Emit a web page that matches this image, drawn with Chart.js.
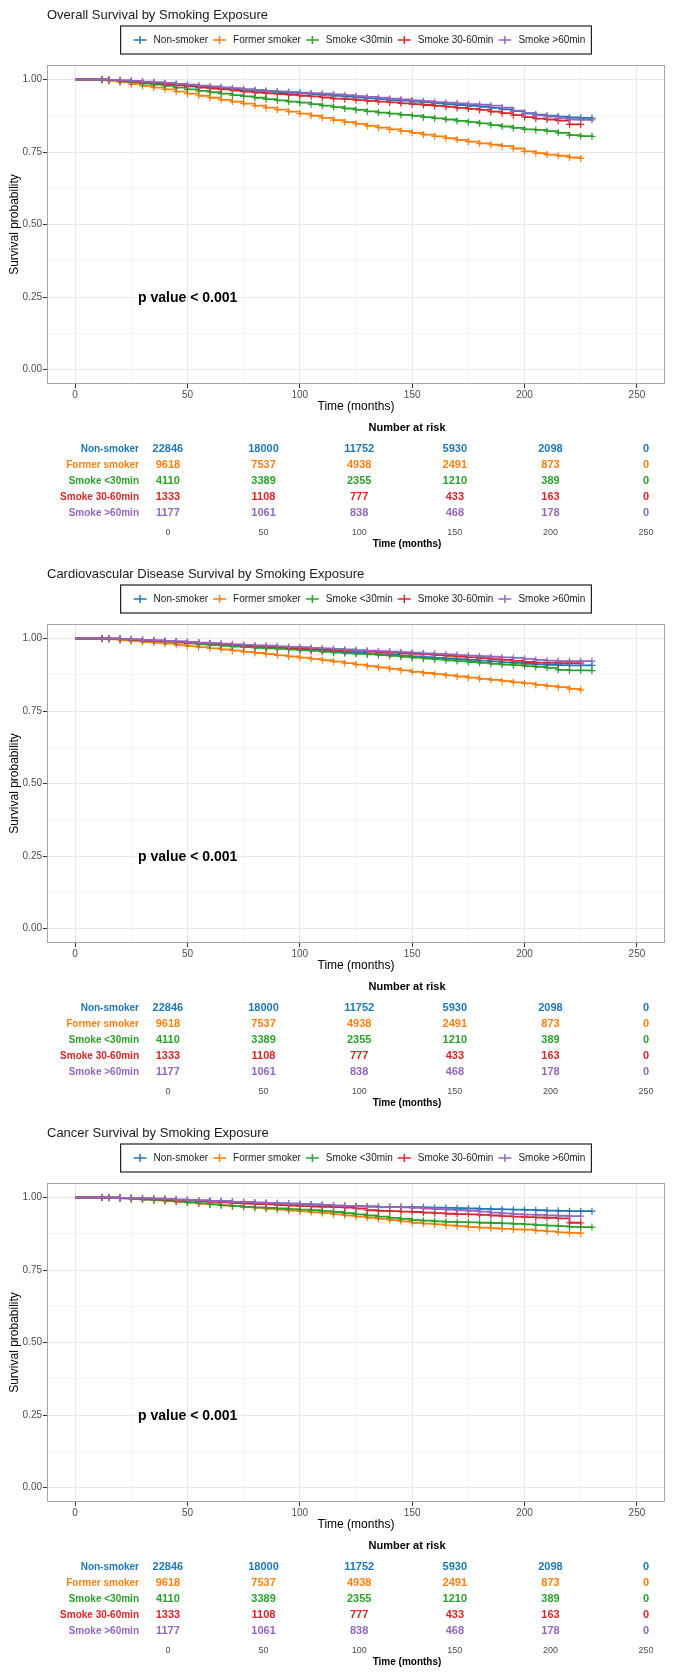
<!DOCTYPE html>
<html>
<head>
<meta charset="UTF-8">
<title>Survival by Smoking Exposure</title>
<script src="https://cdn.jsdelivr.net/npm/chart.js"></script>
<style>
  body { margin: 0; background: #fff; }
  .panel { width: 674px; height: 559px; }
  canvas { display: block; }
</style>
</head>
<body>

<div class="panel"><canvas id="km1" width="674" height="418"></canvas><canvas id="risk1" width="674" height="141"></canvas></div>
<div class="panel"><canvas id="km2" width="674" height="418"></canvas><canvas id="risk2" width="674" height="141"></canvas></div>
<div class="panel"><canvas id="km3" width="674" height="418"></canvas><canvas id="risk3" width="674" height="141"></canvas></div>

<script>
const FONT = '"Liberation Sans", Arial, Helvetica, sans-serif';
Chart.defaults.font.family = FONT;

const groups = ['Non-smoker', 'Former smoker', 'Smoke <30min', 'Smoke 30-60min', 'Smoke >60min'];
const groupColors = ['#1F77B4', '#FF7F0E', '#2CA02C', '#D62728', '#9467BD'];

const xTicks = [0, 25, 50, 75, 100, 125, 150, 175, 200, 225, 250];
const yTicks = [0, 0.125, 0.25, 0.375, 0.5, 0.625, 0.75, 0.875, 1];

const timeMonths = [0, 12, 15, 20, 25, 30, 35, 40, 45, 50,
  55, 60, 65, 70, 75, 80, 85, 90, 95, 100,
  105, 110, 115, 120, 125, 130, 135, 140, 145, 150,
  155, 160, 165, 170, 175, 180, 185, 190, 195, 200,
  205, 210, 215, 220, 225, 230];

// overall survival
const osNonSmoker = [1, 1, 0.999, 0.996, 0.994, 0.991, 0.988, 0.985, 0.982, 0.979,
  0.976, 0.973, 0.970, 0.967, 0.964, 0.961, 0.958, 0.956, 0.954, 0.952,
  0.950, 0.947, 0.944, 0.941, 0.938, 0.935, 0.932, 0.929, 0.927, 0.924,
  0.921, 0.918, 0.915, 0.912, 0.909, 0.906, 0.902, 0.897, 0.891, 0.884,
  0.879, 0.875, 0.872, 0.869, 0.868, 0.867];
const osFormer = [1, 0.998, 0.995, 0.990, 0.984, 0.978, 0.972, 0.966, 0.958, 0.951,
  0.944, 0.937, 0.930, 0.924, 0.917, 0.910, 0.903, 0.896, 0.889, 0.882,
  0.875, 0.868, 0.860, 0.853, 0.847, 0.840, 0.834, 0.828, 0.822, 0.816,
  0.810, 0.804, 0.798, 0.792, 0.786, 0.780, 0.775, 0.770, 0.762, 0.752,
  0.746, 0.741, 0.737, 0.731, 0.728, null];
const osLt30 = [1, 0.999, 0.997, 0.994, 0.990, 0.986, 0.982, 0.978, 0.972, 0.966,
  0.961, 0.956, 0.951, 0.946, 0.942, 0.937, 0.932, 0.928, 0.924, 0.920,
  0.915, 0.910, 0.905, 0.900, 0.895, 0.890, 0.886, 0.882, 0.878, 0.875,
  0.870, 0.866, 0.862, 0.857, 0.853, 0.849, 0.843, 0.838, 0.833, 0.828,
  0.826, 0.822, 0.816, 0.808, 0.805, 0.804];
const os30to60 = [1, 1, 0.998, 0.996, 0.993, 0.990, 0.987, 0.984, 0.980, 0.976,
  0.972, 0.969, 0.966, 0.962, 0.958, 0.955, 0.952, 0.950, 0.947, 0.944,
  0.942, 0.938, 0.934, 0.932, 0.929, 0.926, 0.924, 0.921, 0.918, 0.915,
  0.912, 0.909, 0.906, 0.902, 0.899, 0.895, 0.889, 0.884, 0.877, 0.870,
  0.865, 0.862, 0.858, 0.845, 0.845, null];
const osGt60 = [1, 1, 0.999, 0.997, 0.995, 0.993, 0.991, 0.988, 0.985, 0.982,
  0.979, 0.976, 0.973, 0.970, 0.967, 0.964, 0.961, 0.959, 0.957, 0.955,
  0.953, 0.951, 0.949, 0.946, 0.943, 0.940, 0.937, 0.934, 0.931, 0.928,
  0.925, 0.922, 0.920, 0.918, 0.915, 0.913, 0.910, 0.903, 0.893, 0.882,
  0.876, 0.872, 0.866, 0.862, 0.861, 0.861];

// cardiovascular disease survival
const cvdNonSmoker = [1, 1, 0.999, 0.998, 0.996, 0.994, 0.992, 0.990, 0.988, 0.985,
  0.983, 0.980, 0.978, 0.976, 0.973, 0.971, 0.969, 0.967, 0.965, 0.963,
  0.961, 0.958, 0.955, 0.953, 0.950, 0.948, 0.946, 0.944, 0.941, 0.938,
  0.936, 0.933, 0.931, 0.929, 0.926, 0.924, 0.921, 0.918, 0.916, 0.913,
  0.911, 0.909, 0.908, 0.907, 0.907, 0.907];
const cvdFormer = [1, 0.999, 0.997, 0.994, 0.991, 0.988, 0.985, 0.982, 0.978, 0.974,
  0.970, 0.966, 0.962, 0.958, 0.954, 0.950, 0.946, 0.942, 0.938, 0.934,
  0.930, 0.925, 0.920, 0.915, 0.910, 0.905, 0.900, 0.895, 0.890, 0.885,
  0.881, 0.877, 0.873, 0.869, 0.865, 0.861, 0.857, 0.853, 0.849, 0.845,
  0.840, 0.836, 0.832, 0.826, 0.822, null];
const cvdLt30 = [1, 1, 0.999, 0.997, 0.995, 0.993, 0.991, 0.989, 0.986, 0.983,
  0.980, 0.977, 0.975, 0.972, 0.970, 0.968, 0.966, 0.964, 0.962, 0.959,
  0.957, 0.954, 0.951, 0.949, 0.947, 0.945, 0.943, 0.940, 0.937, 0.934,
  0.931, 0.928, 0.925, 0.922, 0.919, 0.916, 0.913, 0.910, 0.908, 0.905,
  0.902, 0.899, 0.892, 0.890, 0.890, 0.889];
const cvd30to60 = [1, 1, 1, 0.998, 0.996, 0.994, 0.992, 0.990, 0.989, 0.987,
  0.985, 0.983, 0.980, 0.978, 0.975, 0.973, 0.971, 0.970, 0.968, 0.966,
  0.964, 0.962, 0.960, 0.958, 0.957, 0.955, 0.953, 0.951, 0.949, 0.947,
  0.945, 0.943, 0.940, 0.938, 0.935, 0.932, 0.929, 0.926, 0.923, 0.919,
  0.917, 0.916, 0.915, 0.915, 0.915, null];
const cvdGt60 = [1, 1, 1, 0.998, 0.997, 0.995, 0.994, 0.992, 0.990, 0.988,
  0.986, 0.984, 0.982, 0.980, 0.978, 0.976, 0.975, 0.973, 0.971, 0.970,
  0.968, 0.966, 0.964, 0.962, 0.960, 0.958, 0.956, 0.955, 0.953, 0.951,
  0.949, 0.947, 0.945, 0.943, 0.941, 0.939, 0.937, 0.935, 0.933, 0.930,
  0.926, 0.924, 0.922, 0.922, 0.922, 0.922];

// cancer survival
const caNonSmoker = [1, 1, 1, 0.999, 0.998, 0.997, 0.996, 0.995, 0.993, 0.991,
  0.990, 0.988, 0.987, 0.985, 0.984, 0.982, 0.981, 0.980, 0.979, 0.978,
  0.976, 0.974, 0.972, 0.971, 0.970, 0.969, 0.968, 0.968, 0.967, 0.967,
  0.966, 0.965, 0.964, 0.963, 0.962, 0.961, 0.960, 0.959, 0.958, 0.957,
  0.956, 0.955, 0.954, 0.953, 0.953, 0.953];
const caFormer = [1, 1, 0.999, 0.997, 0.995, 0.993, 0.990, 0.988, 0.985, 0.982,
  0.979, 0.976, 0.973, 0.970, 0.967, 0.964, 0.961, 0.958, 0.955, 0.952,
  0.949, 0.946, 0.942, 0.938, 0.934, 0.930, 0.926, 0.922, 0.918, 0.913,
  0.910, 0.907, 0.904, 0.901, 0.898, 0.896, 0.894, 0.892, 0.890, 0.889,
  0.886, 0.883, 0.880, 0.878, 0.877, null];
const caLt30 = [1, 1, 0.999, 0.997, 0.995, 0.993, 0.991, 0.989, 0.986, 0.983,
  0.980, 0.976, 0.973, 0.970, 0.968, 0.966, 0.964, 0.962, 0.960, 0.958,
  0.956, 0.953, 0.950, 0.946, 0.942, 0.938, 0.934, 0.930, 0.926, 0.922,
  0.920, 0.918, 0.916, 0.915, 0.914, 0.913, 0.912, 0.911, 0.909, 0.907,
  0.905, 0.903, 0.901, 0.899, 0.898, 0.898];
const ca30to60 = [1, 1, 1, 0.999, 0.997, 0.996, 0.994, 0.993, 0.991, 0.989,
  0.987, 0.985, 0.983, 0.981, 0.979, 0.977, 0.976, 0.974, 0.972, 0.970,
  0.969, 0.968, 0.967, 0.965, 0.962, 0.956, 0.954, 0.953, 0.951, 0.950,
  0.948, 0.946, 0.944, 0.943, 0.942, 0.940, 0.938, 0.936, 0.934, 0.932,
  0.931, 0.930, 0.928, 0.913, 0.912, null];
const caGt60 = [1, 1, 1, 0.999, 0.998, 0.997, 0.996, 0.995, 0.993, 0.991,
  0.990, 0.988, 0.987, 0.985, 0.984, 0.982, 0.981, 0.980, 0.979, 0.977,
  0.975, 0.974, 0.972, 0.971, 0.970, 0.969, 0.968, 0.967, 0.966, 0.964,
  0.962, 0.960, 0.958, 0.956, 0.954, 0.951, 0.948, 0.945, 0.943, 0.941,
  0.940, 0.938, 0.937, 0.936, 0.936, null];

// number at risk (same table under every panel)
const riskTimes = [0, 50, 100, 150, 200, 250];
const riskNonSmoker = [22846, 18000, 11752, 5930, 2098, 0];
const riskFormer = [9618, 7537, 4938, 2491, 873, 0];
const riskLt30 = [4110, 3389, 2355, 1210, 389, 0];
const risk30to60 = [1333, 1108, 777, 433, 163, 0];
const riskGt60 = [1177, 1061, 838, 468, 178, 0];
const riskCounts = [riskNonSmoker, riskFormer, riskLt30, risk30to60, riskGt60];

const pText = 'p value < 0.001';
const pAt = { x: 28, y: 0.245 };

const isMajorX = v => v % 50 === 0;
const isMajorY = v => Math.abs(v * 4 - Math.round(v * 4)) < 1e-6;

// border, title, boxed legend and p value
const panelDecor = {
    id: 'panelDecor',
    afterDraw(chart, args, opts) {
        const { ctx, chartArea: a, scales: { x, y } } = chart;
        ctx.save();
        ctx.strokeStyle = '#a6a6a6';
        ctx.lineWidth = 1;
        ctx.strokeRect(a.left + 0.5, a.top + 0.5, a.width - 1, a.height - 1);

        ctx.fillStyle = '#1a1a1a';
        ctx.textBaseline = 'middle';
        ctx.textAlign = 'left';
        ctx.font = '13px ' + FONT;
        ctx.fillText(opts.title, a.left, 15);

        ctx.font = '10px ' + FONT;
        const items = chart.data.datasets.map(d => ({ label: d.label, color: d.borderColor, w: ctx.measureText(d.label).width }));
        const mark = 13, gapText = 7, gapItem = 5, padL = 13, padR = 6;
        const total = items.reduce((s, it) => s + mark + gapText + it.w, 0) + gapItem * (items.length - 1);
        const boxW = total + padL + padR;
        const bx = (a.left + a.right) / 2 - boxW / 2;
        ctx.strokeStyle = '#222';
        ctx.lineWidth = 1.2;
        ctx.strokeRect(bx, 26, boxW, 28);
        let lx = bx + padL;
        const ly = 40;
        items.forEach(it => {
            ctx.strokeStyle = it.color;
            ctx.lineWidth = 1.5;
            ctx.beginPath();
            ctx.moveTo(lx, ly); ctx.lineTo(lx + mark, ly);
            ctx.moveTo(lx + mark / 2, ly - 4); ctx.lineTo(lx + mark / 2, ly + 4);
            ctx.stroke();
            ctx.fillStyle = '#222';
            ctx.fillText(it.label, lx + mark + gapText, ly);
            lx += mark + gapText + it.w + gapItem;
        });

        ctx.fillStyle = '#000';
        ctx.font = 'bold 14px ' + FONT;
        ctx.fillText(pText, x.getPixelForValue(pAt.x), y.getPixelForValue(pAt.y));
        ctx.restore();
    }
};

const riskText = {
    id: 'riskText',
    afterDatasetsDraw(chart) {
        const { ctx, chartArea: a } = chart;
        ctx.save();
        ctx.textAlign = 'center';
        ctx.textBaseline = 'middle';
        ctx.fillStyle = '#000';
        ctx.font = 'bold 11px ' + FONT;
        ctx.fillText('Number at risk', (a.left + a.right) / 2, 10);
        chart.data.datasets.forEach((ds, i) => {
            const pts = chart.getDatasetMeta(i).data;
            ctx.fillStyle = groupColors[i];
            ds.data.forEach((p, k) => ctx.fillText(String(p.n), pts[k].x, pts[k].y));
        });
        ctx.restore();
    }
};

function survivalChart(id, title, series) {
    return new Chart(document.getElementById(id), {
        type: 'line',
        data: {
            datasets: groups.map((g, i) => ({
                label: g,
                data: timeMonths.map((t, k) => ({ x: t, y: series[i][k] })),
                borderColor: groupColors[i],
                backgroundColor: groupColors[i],
                borderWidth: 1.8,
                stepped: true,
                fill: false,
                pointStyle: 'cross',
                pointRadius: timeMonths.map(t => t === 0 ? 0 : 3.5),
                pointBorderWidth: 1.2,
                pointHoverRadius: 0,
                order: groups.length - i
            }))
        },
        options: {
            responsive: false,
            animation: false,
            layout: { padding: { top: 65, right: 9, left: 0, bottom: 0 } },
            plugins: {
                legend: { display: false },
                tooltip: { enabled: false },
                panelDecor: { title: title }
            },
            scales: {
                x: {
                    type: 'linear',
                    min: -12.5,
                    max: 262.5,
                    afterBuildTicks: s => { s.ticks = xTicks.map(v => ({ value: v })); },
                    afterFit: s => { s.height = 34; },
                    border: { display: false },
                    grid: {
                        color: c => c.tick && isMajorX(c.tick.value) ? '#e8e8e8' : '#f3f3f3',
                        tickColor: c => c.tick && isMajorX(c.tick.value) ? '#333' : 'rgba(0,0,0,0)',
                        tickLength: 4
                    },
                    ticks: {
                        color: '#4d4d4d', font: { size: 10 }, padding: 1,
                        autoSkip: false, maxRotation: 0,
                        callback: v => isMajorX(v) ? String(v) : ''
                    },
                    title: { display: true, text: 'Time (months)', color: '#000', font: { size: 12 }, padding: { top: 0, bottom: 4 } }
                },
                y: {
                    min: -0.05,
                    max: 1.05,
                    afterBuildTicks: s => { s.ticks = yTicks.map(v => ({ value: v })); },
                    afterFit: s => { s.width = 47; },
                    border: { display: false },
                    grid: {
                        color: c => c.tick && isMajorY(c.tick.value) ? '#e8e8e8' : '#f3f3f3',
                        tickColor: c => c.tick && isMajorY(c.tick.value) ? '#333' : 'rgba(0,0,0,0)',
                        tickLength: 4
                    },
                    ticks: {
                        color: '#4d4d4d', font: { size: 10 }, padding: 1, autoSkip: false,
                        callback: v => isMajorY(v) ? v.toFixed(2) : ''
                    },
                    title: { display: true, text: 'Survival probability', color: '#000', font: { size: 12 }, padding: { top: 7, bottom: 0 } }
                }
            }
        },
        plugins: [panelDecor]
    });
}

function riskChart(id) {
    return new Chart(document.getElementById(id), {
        type: 'scatter',
        data: {
            datasets: groups.map((g, i) => ({
                label: g,
                data: riskTimes.map((t, k) => ({ x: t, y: g, n: riskCounts[i][k] })),
                pointRadius: 0,
                pointHoverRadius: 0,
                showLine: false
            }))
        },
        options: {
            responsive: false,
            animation: false,
            layout: { padding: { top: 23, right: 4, left: 0, bottom: 0 } },
            plugins: { legend: { display: false }, tooltip: { enabled: false } },
            scales: {
                x: {
                    type: 'linear',
                    min: -12.5,
                    max: 262.5,
                    afterBuildTicks: s => { s.ticks = riskTimes.map(v => ({ value: v })); },
                    afterFit: s => { s.height = 38; },
                    border: { display: false },
                    grid: { display: false, drawTicks: false },
                    ticks: { color: '#4d4d4d', font: { size: 9 }, padding: 6, autoSkip: false, maxRotation: 0 },
                    title: { display: true, text: 'Time (months)', color: '#000', font: { size: 10, weight: 'bold' }, padding: { top: 0, bottom: 9 } }
                },
                y: {
                    type: 'category',
                    labels: groups,
                    offset: true,
                    afterFit: s => { s.width = 144; },
                    border: { display: false },
                    grid: { display: false, drawTicks: false },
                    ticks: { color: c => groupColors[c.index], font: { size: 10, weight: 'bold' }, padding: 5 }
                }
            }
        },
        plugins: [riskText]
    });
}

survivalChart('km1', 'Overall Survival by Smoking Exposure', [osNonSmoker, osFormer, osLt30, os30to60, osGt60]);
riskChart('risk1');
survivalChart('km2', 'Cardiovascular Disease Survival by Smoking Exposure', [cvdNonSmoker, cvdFormer, cvdLt30, cvd30to60, cvdGt60]);
riskChart('risk2');
survivalChart('km3', 'Cancer Survival by Smoking Exposure', [caNonSmoker, caFormer, caLt30, ca30to60, caGt60]);
riskChart('risk3');
</script>

</body>
</html>
